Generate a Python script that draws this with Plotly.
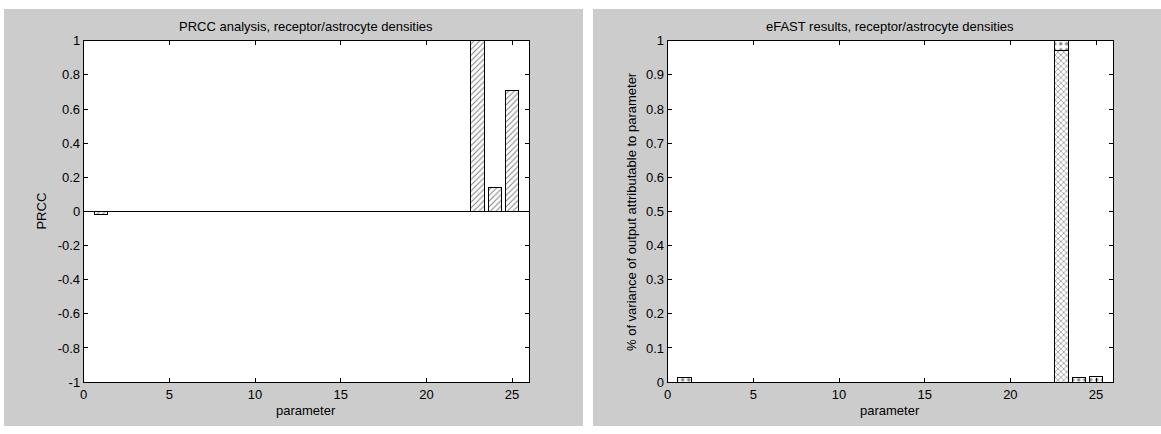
import plotly.graph_objects as go

# ---- data ----
params = list(range(1, 26))
prcc = [0.0] * 25
prcc[0] = -0.018
prcc[22] = 1.0
prcc[23] = 0.14
prcc[24] = 0.71

efast_first = [None] * 25
efast_first[22] = 0.972

efast_rest = [None] * 25
efast_rest[0] = 0.013
efast_rest[22] = 0.03
efast_rest[23] = 0.013
efast_rest[24] = 0.017

left_yticks = [-1, -0.8, -0.6, -0.4, -0.2, 0, 0.2, 0.4, 0.6, 0.8, 1]
left_yticktext = ["-1", "-0.8", "-0.6", "-0.4", "-0.2", "0", "0.2", "0.4", "0.6", "0.8", "1"]
right_yticks = [0, 0.1, 0.2, 0.3, 0.4, 0.5, 0.6, 0.7, 0.8, 0.9, 1]
right_yticktext = ["0", "0.1", "0.2", "0.3", "0.4", "0.5", "0.6", "0.7", "0.8", "0.9", "1"]
xticks = [0, 5, 10, 15, 20, 25]

W, H = 1161, 434
FONT = "Liberation Sans, Arial, Helvetica, sans-serif"
FS = 13
GRAY = "#cccccc"

def px(x):
    return x / W

def py(y):
    return 1 - y / H

L_X0, L_X1 = 80, 527
R_X0, R_X1 = 666, 1113
Y_TOP, Y_BOT = 35, 388.5

fig = go.Figure()

fig.add_trace(go.Bar(
    x=params, y=prcc, width=0.8, xaxis="x", yaxis="y",
    marker=dict(color="white", line=dict(color="black", width=1),
                pattern=dict(shape="/", fgcolor="black", bgcolor="white", size=4, solidity=0.25)),
    showlegend=False,
))
fig.add_trace(go.Bar(
    x=params, y=efast_first, width=0.8, xaxis="x2", yaxis="y2",
    marker=dict(color="white", line=dict(color="black", width=1),
                pattern=dict(shape="x", fgcolor="black", bgcolor="white", size=4, solidity=0.3)),
    showlegend=False,
))
fig.add_trace(go.Bar(
    x=params, y=efast_rest, width=0.8, xaxis="x2", yaxis="y2",
    marker=dict(color="white", line=dict(color="black", width=1),
                pattern=dict(shape=".", fgcolor="black", bgcolor="white", size=6, solidity=0.25)),
    showlegend=False,
))

axis_common = dict(
    showline=True, linecolor="black", linewidth=1, mirror="ticks",
    ticks="inside", ticklen=4, tickcolor="black", showgrid=False,
    tickfont=dict(family=FONT, size=FS, color="black"),
)

def rect(x0, x1, y0, y1, color):
    return dict(type="rect", xref="paper", yref="paper", x0=px(x0), x1=px(x1),
                y0=py(y1), y1=py(y0), fillcolor=color, line=dict(width=0), layer="below")

fig.update_layout(
    width=W, height=H,
    margin=dict(l=0, r=0, t=0, b=0),
    paper_bgcolor="white", plot_bgcolor="white",
    barmode="stack",
    font=dict(family=FONT, size=FS, color="black"),
    xaxis=dict(domain=[px(L_X0), px(L_X1)], range=[0, 26], tickvals=xticks,
               zeroline=False, anchor="y", **axis_common),
    yaxis=dict(domain=[py(Y_BOT), py(Y_TOP)], range=[-1, 1], tickvals=left_yticks,
               ticktext=left_yticktext, zeroline=True, zerolinecolor="black",
               zerolinewidth=1, anchor="x", **axis_common),
    xaxis2=dict(domain=[px(R_X0), px(R_X1)], range=[0, 26], tickvals=xticks,
                zeroline=False, anchor="y2", **axis_common),
    yaxis2=dict(domain=[py(Y_BOT), py(Y_TOP)], range=[0, 1], tickvals=right_yticks,
                ticktext=right_yticktext, zeroline=False, anchor="x2", **axis_common),
    shapes=[
        rect(0, 581, 2, H, GRAY),
        rect(591, W, 2, H, GRAY),
        rect(L_X0, L_X1, Y_TOP, Y_BOT, "white"),
        rect(R_X0, R_X1, Y_TOP, Y_BOT, "white"),
    ],
    annotations=[
        dict(text="PRCC analysis, receptor/astrocyte densities", xref="paper", yref="paper",
             x=px((L_X0 + L_X1) / 2), y=py(20), showarrow=False, xanchor="center",
             yanchor="middle", font=dict(size=FS)),
        dict(text="eFAST results, receptor/astrocyte densities", xref="paper", yref="paper",
             x=px((R_X0 + R_X1) / 2), y=py(20), showarrow=False, xanchor="center",
             yanchor="middle", font=dict(size=FS)),
        dict(text="parameter", xref="paper", yref="paper", x=px((L_X0 + L_X1) / 2), y=py(418),
             showarrow=False, xanchor="center", yanchor="middle", font=dict(size=FS)),
        dict(text="parameter", xref="paper", yref="paper", x=px((R_X0 + R_X1) / 2), y=py(418),
             showarrow=False, xanchor="center", yanchor="middle", font=dict(size=FS)),
        dict(text="PRCC", xref="paper", yref="paper", x=px(37.5), y=py(211.5), textangle=-90,
             showarrow=False, xanchor="center", yanchor="middle", font=dict(size=FS)),
        dict(text="% of variance of output attributable to parameter", xref="paper", yref="paper",
             x=px(629), y=py(211.5), textangle=-90,
             showarrow=False, xanchor="center", yanchor="middle", font=dict(size=FS)),
    ],
)

fig.write_html("out.html")
